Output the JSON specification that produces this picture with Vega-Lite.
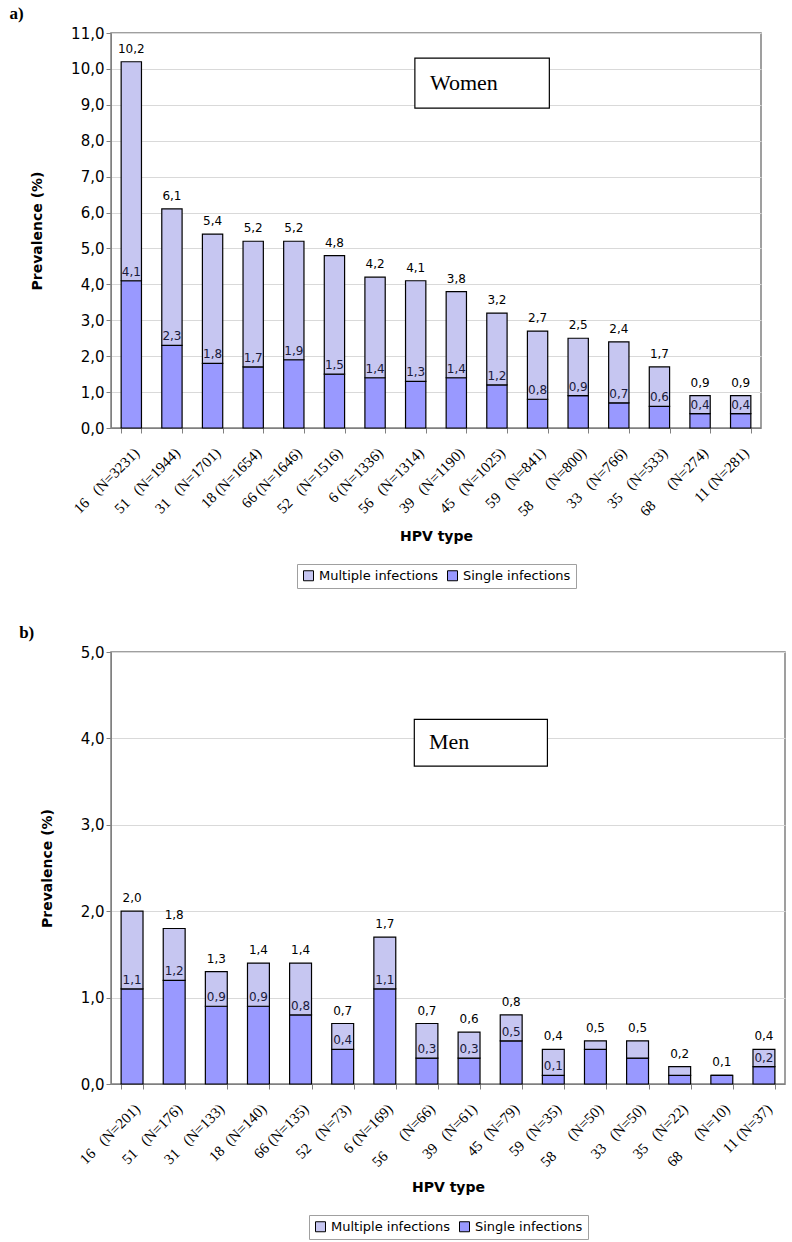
{
  "$schema": "https://vega.github.io/schema/vega-lite/v6.json",
  "padding": {"left": 8, "top": 4, "right": 2, "bottom": 4},
  "datasets": {
    "women": [
      {"hpv": "16\u00a0\u00a0\u00a0(N=3231)", "single": 4.1, "total": 10.2, "singleLabel": 4.1},
      {"hpv": "51\u00a0\u00a0\u00a0(N=1944)", "single": 2.3, "total": 6.1, "singleLabel": 2.3},
      {"hpv": "31\u00a0\u00a0\u00a0(N=1701)", "single": 1.8, "total": 5.4, "singleLabel": 1.8},
      {"hpv": "18\u00a0(N=1654)", "single": 1.7, "total": 5.2, "singleLabel": 1.7},
      {"hpv": "66\u00a0(N=1646)", "single": 1.9, "total": 5.2, "singleLabel": 1.9},
      {"hpv": "52\u00a0\u00a0\u00a0(N=1516)", "single": 1.5, "total": 4.8, "singleLabel": 1.5},
      {"hpv": "6\u00a0(N=1336)", "single": 1.4, "total": 4.2, "singleLabel": 1.4},
      {"hpv": "56\u00a0\u00a0\u00a0(N=1314)", "single": 1.3, "total": 4.1, "singleLabel": 1.3},
      {"hpv": "39\u00a0\u00a0\u00a0(N=1190)", "single": 1.4, "total": 3.8, "singleLabel": 1.4},
      {"hpv": "45\u00a0\u00a0\u00a0(N=1025)", "single": 1.2, "total": 3.2, "singleLabel": 1.2},
      {"hpv": "59\u00a0\u00a0\u00a0(N=841)", "single": 0.8, "total": 2.7, "singleLabel": 0.8},
      {"hpv": "58\u00a0\u00a0\u00a0\u00a0\u00a0\u00a0(N=800)", "single": 0.9, "total": 2.5, "singleLabel": 0.9},
      {"hpv": "33\u00a0\u00a0\u00a0(N=766)", "single": 0.7, "total": 2.4, "singleLabel": 0.7},
      {"hpv": "35\u00a0\u00a0\u00a0(N=533)", "single": 0.6, "total": 1.7, "singleLabel": 0.6},
      {"hpv": "68\u00a0\u00a0\u00a0\u00a0\u00a0\u00a0(N=274)", "single": 0.4, "total": 0.9, "singleLabel": 0.4},
      {"hpv": "11\u00a0(N=281)", "single": 0.4, "total": 0.9, "singleLabel": 0.4}
    ],
    "men": [
      {"hpv": "16\u00a0\u00a0\u00a0(N=201)", "single": 1.1, "total": 2.0, "singleLabel": 1.1},
      {"hpv": "51\u00a0\u00a0\u00a0(N=176)", "single": 1.2, "total": 1.8, "singleLabel": 1.2},
      {"hpv": "31\u00a0\u00a0\u00a0(N=133)", "single": 0.9, "total": 1.3, "singleLabel": 0.9},
      {"hpv": "18\u00a0\u00a0(N=140)", "single": 0.9, "total": 1.4, "singleLabel": 0.9},
      {"hpv": "66\u00a0(N=135)", "single": 0.8, "total": 1.4, "singleLabel": 0.8},
      {"hpv": "52\u00a0\u00a0\u00a0(N=73)", "single": 0.4, "total": 0.7, "singleLabel": 0.4},
      {"hpv": "6\u00a0(N=169)", "single": 1.1, "total": 1.7, "singleLabel": 1.1},
      {"hpv": "56\u00a0\u00a0\u00a0\u00a0\u00a0\u00a0(N=66)", "single": 0.3, "total": 0.7, "singleLabel": 0.3},
      {"hpv": "39\u00a0\u00a0\u00a0(N=61)", "single": 0.3, "total": 0.6, "singleLabel": 0.3},
      {"hpv": "45\u00a0\u00a0(N=79)", "single": 0.5, "total": 0.8, "singleLabel": 0.5},
      {"hpv": "59\u00a0\u00a0(N=35)", "single": 0.1, "total": 0.4, "singleLabel": 0.1},
      {"hpv": "58\u00a0\u00a0\u00a0\u00a0\u00a0\u00a0(N=50)", "single": 0.4, "total": 0.5, "singleLabel": null},
      {"hpv": "33\u00a0\u00a0\u00a0(N=50)", "single": 0.3, "total": 0.5, "singleLabel": null},
      {"hpv": "35\u00a0\u00a0\u00a0(N=22)", "single": 0.1, "total": 0.2, "singleLabel": null},
      {"hpv": "68\u00a0\u00a0\u00a0\u00a0\u00a0\u00a0(N=10)", "single": 0.1, "total": 0.1, "singleLabel": null},
      {"hpv": "11\u00a0(N=37)", "single": 0.2, "total": 0.4, "singleLabel": 0.2}
    ]
  },
  "vconcat": [
    {
      "title": {"text": "a)", "anchor": "start", "frame": "bounds", "font": "Liberation Serif", "fontSize": 17, "fontWeight": "bold", "dx": -21, "offset": 3, "color": "black"},
      "width": 650,
      "height": 395,
      "layer": [
        {
          "data": {"name": "women"},
          "encoding": {
            "x": {"field": "hpv", "type": "nominal", "sort": null, "scale": {"paddingInner": 0.5, "paddingOuter": 0.25},
              "axis": {"title": "HPV type", "labelAngle": -45, "labelFont": "Liberation Serif", "labelFontSize": 15, "tickBand": "extent", "titlePadding": 11, "titleFontSize": 14, "titleFontWeight": "bold", "labelPadding": 12}}
          },
          "layer": [
            {
              "mark": {"type": "bar", "stroke": "black", "strokeWidth": 1.2},
              "encoding": {
                "y": {"field": "single", "type": "quantitative", "scale": {"domain": [0, 11]},
                  "axis": {"title": "Prevalence (%)", "tickCount": 11, "format": ".1f", "labelFontSize": 15, "titleFontSize": 14, "titleFontWeight": "bold", "titlePadding": 26}},
                "color": {"datum": "Single infections",
                  "scale": {"domain": ["Multiple infections", "Single infections"], "range": ["#C6C6F1", "#9999FF"]},
                  "legend": {"orient": "bottom", "direction": "horizontal", "title": null, "strokeColor": "#A0A0A0", "padding": 5, "symbolType": "square", "symbolStrokeColor": "black", "symbolStrokeWidth": 1, "symbolSize": 100, "labelFontSize": 13, "offset": 20, "columnPadding": 6}}
              }
            },
            {
              "mark": {"type": "bar", "stroke": "black", "strokeWidth": 1.2},
              "encoding": {
                "y": {"field": "single", "type": "quantitative"},
                "y2": {"field": "total"},
                "color": {"datum": "Multiple infections"}
              }
            },
            {
              "mark": {"type": "text", "baseline": "bottom", "dy": -6, "fontSize": 12, "color": "black"},
              "encoding": {
                "y": {"field": "total", "type": "quantitative"},
                "text": {"field": "total", "type": "quantitative", "format": ".1f"}
              }
            },
            {
              "transform": [{"filter": {"field": "singleLabel", "valid": true}}],
              "mark": {"type": "text", "baseline": "bottom", "dy": -2, "fontSize": 12, "color": "#1a1a3a"},
              "encoding": {
                "y": {"field": "single", "type": "quantitative"},
                "text": {"field": "singleLabel", "type": "quantitative", "format": ".1f"}
              }
            }
          ]
        },
        {
          "data": {"values": [{"label": "Women"}]},
          "layer": [
            {
              "mark": {"type": "rect", "fill": "white", "stroke": "black", "strokeWidth": 1.2},
              "encoding": {
                "x": {"datum": 7.48, "type": "quantitative", "scale": {"domain": [0, 16]}, "axis": null},
                "x2": {"datum": 10.79},
                "y": {"datum": 8.91, "type": "quantitative"},
                "y2": {"datum": 10.3}
              }
            },
            {
              "mark": {"type": "text", "font": "Liberation Serif", "fontSize": 22, "align": "left", "baseline": "middle", "color": "black"},
              "encoding": {
                "x": {"datum": 7.85, "type": "quantitative"},
                "y": {"datum": 9.61, "type": "quantitative"},
                "text": {"field": "label"}
              }
            }
          ]
        }
      ],
      "resolve": {"scale": {"x": "independent"}}
    },
    {
      "title": {"text": "b)", "anchor": "start", "frame": "bounds", "font": "Liberation Serif", "fontSize": 17, "fontWeight": "bold", "dx": -21, "offset": 3, "color": "black"},
      "width": 674,
      "height": 432,
      "layer": [
        {
          "data": {"name": "men"},
          "encoding": {
            "x": {"field": "hpv", "type": "nominal", "sort": null, "scale": {"paddingInner": 0.48, "paddingOuter": 0.24},
              "axis": {"title": "HPV type", "labelAngle": -45, "labelFont": "Liberation Serif", "labelFontSize": 15, "tickBand": "extent", "titlePadding": 11, "titleFontSize": 14, "titleFontWeight": "bold", "labelPadding": 12}}
          },
          "layer": [
            {
              "mark": {"type": "bar", "stroke": "black", "strokeWidth": 1.2},
              "encoding": {
                "y": {"field": "single", "type": "quantitative", "scale": {"domain": [0, 5]},
                  "axis": {"title": "Prevalence (%)", "tickCount": 5, "format": ".1f", "labelFontSize": 15, "titleFontSize": 14, "titleFontWeight": "bold", "titlePadding": 26}},
                "color": {"datum": "Single infections",
                  "scale": {"domain": ["Multiple infections", "Single infections"], "range": ["#C6C6F1", "#9999FF"]},
                  "legend": {"orient": "bottom", "direction": "horizontal", "title": null, "strokeColor": "#A0A0A0", "padding": 5, "symbolType": "square", "symbolStrokeColor": "black", "symbolStrokeWidth": 1, "symbolSize": 100, "labelFontSize": 13, "offset": 20, "columnPadding": 6}}
              }
            },
            {
              "mark": {"type": "bar", "stroke": "black", "strokeWidth": 1.2},
              "encoding": {
                "y": {"field": "single", "type": "quantitative"},
                "y2": {"field": "total"},
                "color": {"datum": "Multiple infections"}
              }
            },
            {
              "mark": {"type": "text", "baseline": "bottom", "dy": -6, "fontSize": 12, "color": "black"},
              "encoding": {
                "y": {"field": "total", "type": "quantitative"},
                "text": {"field": "total", "type": "quantitative", "format": ".1f"}
              }
            },
            {
              "transform": [{"filter": {"field": "singleLabel", "valid": true}}],
              "mark": {"type": "text", "baseline": "bottom", "dy": -2, "fontSize": 12, "color": "#1a1a3a"},
              "encoding": {
                "y": {"field": "single", "type": "quantitative"},
                "text": {"field": "singleLabel", "type": "quantitative", "format": ".1f"}
              }
            }
          ]
        },
        {
          "data": {"values": [{"label": "Men"}]},
          "layer": [
            {
              "mark": {"type": "rect", "fill": "white", "stroke": "black", "strokeWidth": 1.2},
              "encoding": {
                "x": {"datum": 7.2, "type": "quantitative", "scale": {"domain": [0, 16]}, "axis": null},
                "x2": {"datum": 10.36},
                "y": {"datum": 3.68, "type": "quantitative"},
                "y2": {"datum": 4.22}
              }
            },
            {
              "mark": {"type": "text", "font": "Liberation Serif", "fontSize": 22, "align": "left", "baseline": "middle", "color": "black"},
              "encoding": {
                "x": {"datum": 7.55, "type": "quantitative"},
                "y": {"datum": 3.96, "type": "quantitative"},
                "text": {"field": "label"}
              }
            }
          ]
        }
      ],
      "resolve": {"scale": {"x": "independent"}}
    }
  ],
  "spacing": 33,
  "resolve": {"legend": {"color": "independent"}, "scale": {"color": "independent"}},
  "config": {
    "locale": {"number": {"decimal": ",", "thousands": ".", "grouping": [3], "currency": ["", " €"]}},
    "font": "DejaVu Sans",
    "view": {"stroke": "#808080", "strokeWidth": 1.5},
    "axis": {"domainColor": "#808080", "tickColor": "#808080", "gridColor": "#D9D9D9", "labelColor": "black", "titleColor": "black", "tickSize": 5, "labelFont": "DejaVu Sans", "titleFont": "DejaVu Sans"},
    "axisX": {"grid": false},
    "legend": {"labelFont": "DejaVu Sans", "labelColor": "black", "layout": {"bottom": {"anchor": "middle"}}}
  }
}
